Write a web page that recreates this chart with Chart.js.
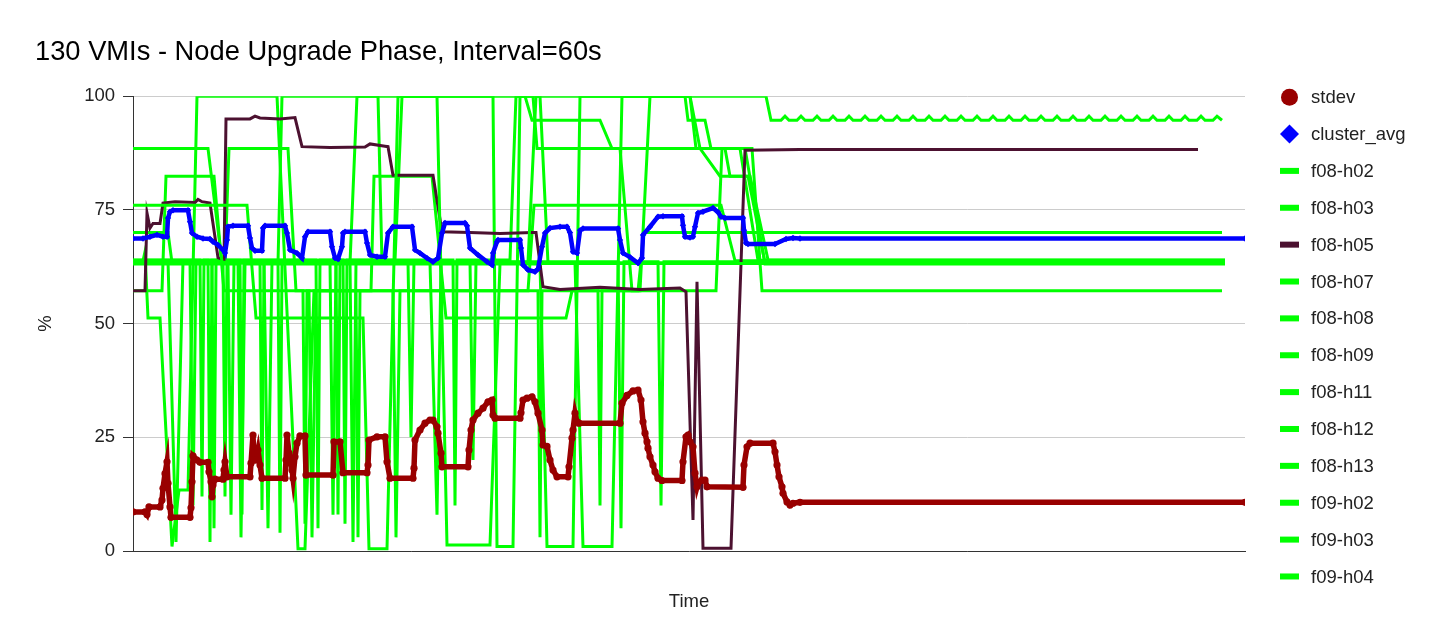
<!DOCTYPE html>
<html>
<head>
<meta charset="utf-8">
<script src="https://cdn.jsdelivr.net/npm/chart.js@4.4.1/dist/chart.umd.min.js"></script>
<style>
html, body { margin: 0; padding: 0; background: #fff; }
#wrap { width: 1440px; height: 644px; }
</style>
</head>
<body>
<div id="wrap"><canvas id="chart"></canvas></div>
<script>
// samples as [time index, %]
const stdev = [[0,8.6],[12,8.6],[14,8.0],[16,9.7],[27,9.7],[29,11.2],[30,13.8],[32,17],[34,19.6],[35,14.9],[37,9.7],[38,7.4],[57,7.4],[58,9.5],[59,15.2],[60,20.9],[64,20],[67,19.5],[75,19.5],[76,17.4],[78,15.2],[79,11.9],[80,14.5],[82,15.8],[90,15.8],[91,17.8],[92,19.6],[94,16.3],[117,16.3],[118,19.3],[120,25.5],[121,20],[123,20],[125,22.2],[127,18.9],[129,16],[152,16],[153,20],[154,25.5],[156,21.5],[159,17.8],[160,16],[162,20.7],[164,23.7],[167,25.3],[172,25.3],[173,16.7],[200,16.7],[201,24],[207,24],[210,17.2],[234,17.2],[235,18.9],[236,24.4],[244,25.1],[252,25.1],[254,19.6],[257,16],[280,16],[281,18.2],[282,24.4],[287,26.6],[292,28.1],[297,28.8],[300,28.8],[304,27.3],[305,25.9],[308,21.5],[309,18.5],[335,18.5],[336,22.2],[338,26.6],[340,28.8],[345,30.3],[350,31.4],[355,32.8],[359,33.2],[360,29.9],[362,29.2],[387,29.2],[388,30.4],[390,33.2],[394,33.6],[399,33.9],[402,32.8],[405,30.3],[409,26.6],[410,23.3],[414,23],[417,20],[420,17.8],[424,16.3],[435,16.3],[436,18.5],[439,24.8],[440,26.6],[442,30.3],[444,28.4],[446,28.1],[487,28.1],[489,32.5],[494,34.2],[500,35.2],[505,35.4],[508,33.2],[510,28.4],[512,25.9],[514,24],[515,22.6],[517,20.7],[520,18.9],[522,17.4],[525,16],[529,15.5],[549,15.5],[550,19.6],[553,25.1],[555,25.5],[557,24],[560,22.9],[562,17.1],[564,14.1],[565,14.9],[569,15.6],[572,15.6],[574,14.1],[610,14.0],[611,18.9],[614,22.9],[617,23.7],[640,23.7],[642,21.8],[644,18.9],[646,16.3],[649,14.1],[650,12.7],[654,10.8],[657,10.1],[660,10.5],[667,10.7],[1112,10.7]];

const clusterAvg = [[0,68.7],[10,68.7],[17,69.1],[24,69.5],[30,69.1],[34,69.1],[35,73.2],[37,74.6],[40,74.9],[55,74.9],[57,72.4],[59,69.9],[64,69.1],[70,68.7],[77,68.6],[80,68],[85,67.3],[90,66.2],[92,65.5],[94,68.4],[95,71.3],[100,71.5],[115,71.5],[117,68.8],[119,66.6],[122,66],[129,66],[130,71],[132,71.5],[152,71.5],[154,69.9],[157,66.2],[164,65.5],[169,64.4],[172,69.1],[175,70.2],[197,70.2],[199,66.9],[202,64.4],[205,64.2],[209,66.9],[210,69.9],[212,70.2],[232,70.2],[234,67.7],[237,65.1],[244,64.7],[252,64.7],[255,69.9],[260,71.3],[279,71.3],[282,66.2],[287,65.5],[294,64.4],[300,63.6],[305,64.4],[309,69.9],[312,72.1],[332,72.1],[334,71.5],[337,66.6],[345,65.1],[354,63.6],[359,62.9],[360,65.5],[364,68],[365,68.4],[387,68.4],[388,66.6],[390,62.9],[395,61.8],[402,61.4],[405,62],[409,66.9],[412,69.9],[417,71],[427,71.3],[434,71.3],[437,70],[440,65.8],[444,65.5],[447,70.5],[450,70.9],[485,70.9],[487,68.4],[490,65.5],[497,64.6],[505,63.3],[509,64.4],[510,69.5],[517,71.3],[525,73.5],[530,73.6],[549,73.6],[550,71.6],[552,69.1],[557,68.9],[560,69.1],[562,71.3],[565,74.3],[570,74.6],[580,75.4],[585,74.5],[588,73.5],[592,73.2],[610,73.2],[611,70.5],[613,67.7],[615,67.5],[642,67.5],[653,68.6],[660,68.8],[667,68.7],[1112,68.7]];

const f08h02 = [[0,88.5],[75,88.5],[89,63.5],[131,63.5],[135,5],[139,63.5],[395,63.5],[403,100],[633,100],[638,94.7],[648,94.7],[652,95.6],[656,94.7],[664,94.7],[668,95.6],[672,94.7],[680,94.7],[684,95.6],[688,94.7],[696,94.7],[700,95.6],[704,94.7],[712,94.7],[716,95.6],[720,94.7],[728,94.7],[732,95.6],[736,94.7],[744,94.7],[748,95.6],[752,94.7],[760,94.7],[764,95.6],[768,94.7],[776,94.7],[780,95.6],[784,94.7],[792,94.7],[796,95.6],[800,94.7],[808,94.7],[812,95.6],[816,94.7],[824,94.7],[828,95.6],[832,94.7],[840,94.7],[844,95.6],[848,94.7],[856,94.7],[860,95.6],[864,94.7],[872,94.7],[876,95.6],[880,94.7],[888,94.7],[892,95.6],[896,94.7],[904,94.7],[908,95.6],[912,94.7],[920,94.7],[924,95.6],[928,94.7],[936,94.7],[940,95.6],[944,94.7],[952,94.7],[956,95.6],[960,94.7],[968,94.7],[972,95.6],[976,94.7],[984,94.7],[988,95.6],[992,94.7],[1000,94.7],[1004,95.6],[1008,94.7],[1016,94.7],[1020,95.6],[1024,94.7],[1032,94.7],[1036,95.6],[1040,94.7],[1048,94.7],[1052,95.6],[1056,94.7],[1064,94.7],[1068,95.6],[1072,94.7],[1080,94.7],[1084,95.6],[1089,94.7]];
const f08h03 = [[0,76],[114,76],[123,51.2],[230,51.2],[236,0.5],[254,0.5],[265,100],[304,100],[314,1.3],[357,1.3],[367,63.2],[1092,63.2]];
const f08h05 = [[0,57.2],[12,57.2],[14,74.3],[17,71],[20,72],[27,72],[30,76.5],[42,76.8],[62,76.6],[65,77.3],[69,76.8],[77,76.5],[85,64.5],[91,64],[93,95],[117,95],[122,95.6],[127,95.2],[147,95],[162,95.3],[169,88.9],[197,88.7],[232,88.8],[237,89.5],[252,89],[255,88.9],[260,82.6],[300,82.6],[309,70.2],[337,70],[367,69.8],[400,70],[403,70],[410,58.1],[427,57.5],[467,58],[507,57.5],[547,57.8],[553,57],[560,6.8],[564,59.2],[570,0.6],[598,0.6],[612,88.1],[667,88.3],[1065,88.3]];
const f08h07 = [[0,63.8],[10,63.8],[12,65.8],[15,51.2],[27,51.2],[39,1],[46,13.4],[55,13.4],[64,100],[144,100],[165,0.5],[172,0.5],[181,57.2],[395,57.2],[401,76],[588,76],[602,63.8],[1092,63.8]];
const f08h08 = [[0,57.2],[29,57.2],[33,82.4],[81,82.4],[91,57.2],[170,57.2],[172,6],[174,57.2],[223,57.2],[225,3],[227,57.2],[238,57.2],[241,82.4],[299,82.4],[313,51.2],[433,51.2],[439,57.2],[583,57.2],[589,88.5],[619,88.5],[629,57.2],[1089,57.2]];
const f08h09 = [[0,63.7],[35,63.7],[43,2],[50,63.7],[92,63.7],[96,88.5],[155,88.5],[163,57.2],[176,57.2],[179,3],[183,57.2],[260,57.2],[263,3],[267,57.2],[405,57.2],[407,3],[409,57.2],[465,57.2],[467,10],[469,57.2],[505,57.2],[511,70],[1089,70]];
const f08h11 = [[0,70],[35,70],[39,63.4],[79,63.4],[81,5],[83,63.4],[127,63.4],[129,9],[131,63.4],[145,63.4],[149,100],[245,100],[249,63.4],[297,63.4],[304,8],[308,63.4],[1092,63.4]];
const f08h12 = [[0,63.6],[57,63.6],[60,10],[63,63.6],[95,63.6],[98,8],[101,63.6],[197,63.6],[200,8],[203,63.6],[217,63.6],[220,2],[223,63.6],[275,63.6],[278,25],[281,63.6],[337,63.6],[340,20],[343,63.6],[485,63.6],[488,5],[491,63.6],[525,63.6],[528,10],[531,63.6],[1092,63.6]];
const f08h13 = [[0,64],[67,64],[69,12],[71,64],[90,64],[92,12],[94,64],[183,64],[185,5],[187,64],[210,64],[212,6],[214,64],[320,64],[322,10],[324,64],[377,64],[383,100],[392,100],[399,94.7],[467,94.7],[479,88.5],[567,88.5],[587,82.4],[617,82.4],[635,64],[1092,64]];
const f09h02 = [[0,63.1],[105,63.1],[108,3],[112,63.1],[407,63.1],[414,1],[440,1],[447,100],[557,100],[567,88.5],[612,88.5],[632,63.1],[1092,63.1]];
const f09h03 = [[0,63.9],[75,63.9],[77,2],[79,63.9],[107,63.9],[109,8],[111,63.9],[203,63.9],[205,8],[207,63.9],[262,63.9],[269,100],[360,100],[364,1],[380,1],[387,100],[400,100],[404,88.5],[487,88.5],[499,57.2],[507,57.2],[517,100],[557,100],[563,88.5],[607,88.5],[625,63.9],[1092,63.9]];
const f09h04 = [[0,63.3],[145,63.3],[147,4],[149,63.3],[217,63.3],[224,100],[407,100],[415,63.3],[442,63.3],[450,1],[479,1],[489,100],[552,100],[555,94.7],[572,94.7],[578,88.5],[592,88.5],[597,82.4],[615,82.4],[632,63.3],[1092,63.3]];

const hostNames = ['f08-h02','f08-h03','f08-h05','f08-h07','f08-h08','f08-h09','f08-h11','f08-h12','f08-h13','f09-h02','f09-h03','f09-h04'];
const hostSeries = [f08h02, f08h03, f08h05, f08h07, f08h08, f08h09, f08h11, f08h12, f08h13, f09h02, f09h03, f09h04];
const timeMax = 1112;

const FONT = '"Liberation Sans", Arial, sans-serif';
Chart.defaults.font.family = FONT;

const datasets = [
  { label: 'stdev', data: stdev, borderColor: '#990000', backgroundColor: '#990000',
    borderWidth: 5.5, pointRadius: 3.6, pointBorderWidth: 0, pointStyle: 'circle' },
  { label: 'cluster_avg', data: clusterAvg, borderColor: '#0000ff', backgroundColor: '#0000ff',
    borderWidth: 4.5, pointRadius: 3.2, pointBorderWidth: 0, pointStyle: 'rectRot' }
];
hostNames.forEach((n, i) => {
  const c = n === 'f08-h05' ? '#4c1130' : '#00ff00';
  datasets.push({ label: n, data: hostSeries[i], borderColor: c, backgroundColor: c,
    borderWidth: 3, pointRadius: 0, pointStyle: 'line' });
});

// legend drawn by hand so it can run past the plot bottom like the original
const sideLegend = {
  id: 'sideLegend',
  afterDraw(chart) {
    const {ctx, chartArea} = chart;
    const x0 = chartArea.right + 44.5;
    ctx.save();
    ctx.font = '18.5px ' + FONT;
    ctx.textBaseline = 'middle';
    chart.data.datasets.forEach((ds, i) => {
      const y = chartArea.top + 1 + i * 36.87;
      ctx.fillStyle = ds.borderColor;
      if (ds.pointStyle === 'circle') {
        ctx.beginPath(); ctx.arc(x0, y, 8.5, 0, Math.PI * 2); ctx.fill();
      } else if (ds.pointStyle === 'rectRot') {
        ctx.beginPath();
        ctx.moveTo(x0, y - 9.5); ctx.lineTo(x0 + 9.5, y); ctx.lineTo(x0, y + 9.5); ctx.lineTo(x0 - 9.5, y);
        ctx.closePath(); ctx.fill();
      } else {
        ctx.fillRect(x0 - 9.5, y - 3, 19, 6);
      }
      ctx.fillStyle = '#222';
      ctx.fillText(ds.label, x0 + 21.5, y + 1);
    });
    ctx.restore();
  }
};

new Chart(document.getElementById('chart'), {
  type: 'line',
  data: { datasets: datasets },
  options: {
    responsive: true,
    maintainAspectRatio: false,
    animation: false,
    layout: { padding: { left: 35, right: 195, top: 0, bottom: 20 } },
    elements: { line: { tension: 0 } },
    plugins: {
      legend: { display: false },
      tooltip: { enabled: false },
      title: {
        display: true, align: 'start', color: '#000',
        text: '130 VMIs - Node Upgrade Phase, Interval=60s',
        font: { size: 27.3, weight: 'normal' },
        padding: { top: 36, bottom: 27.4 }
      }
    },
    scales: {
      x: {
        type: 'linear', min: 0, max: timeMax,
        afterFit: s => { s.height = 73; },
        ticks: { display: false },
        grid: { display: false },
        border: { color: '#333', width: 1 },
        title: { display: true, text: 'Time', color: '#222', font: { size: 18.5 }, padding: { top: 0, bottom: 11 } }
      },
      y: {
        min: 0, max: 100,
        afterFit: s => { s.width = 98; },
        ticks: { stepSize: 25, color: '#222', font: { size: 18.5 }, padding: 8 },
        grid: { color: '#cccccc', tickColor: '#333', tickLength: 10 },
        border: { color: '#333', width: 1 },
        title: { display: true, text: '%', color: '#222', font: { size: 18.5 }, padding: 0 }
      }
    }
  },
  plugins: [sideLegend]
});
</script>
</body>
</html>
